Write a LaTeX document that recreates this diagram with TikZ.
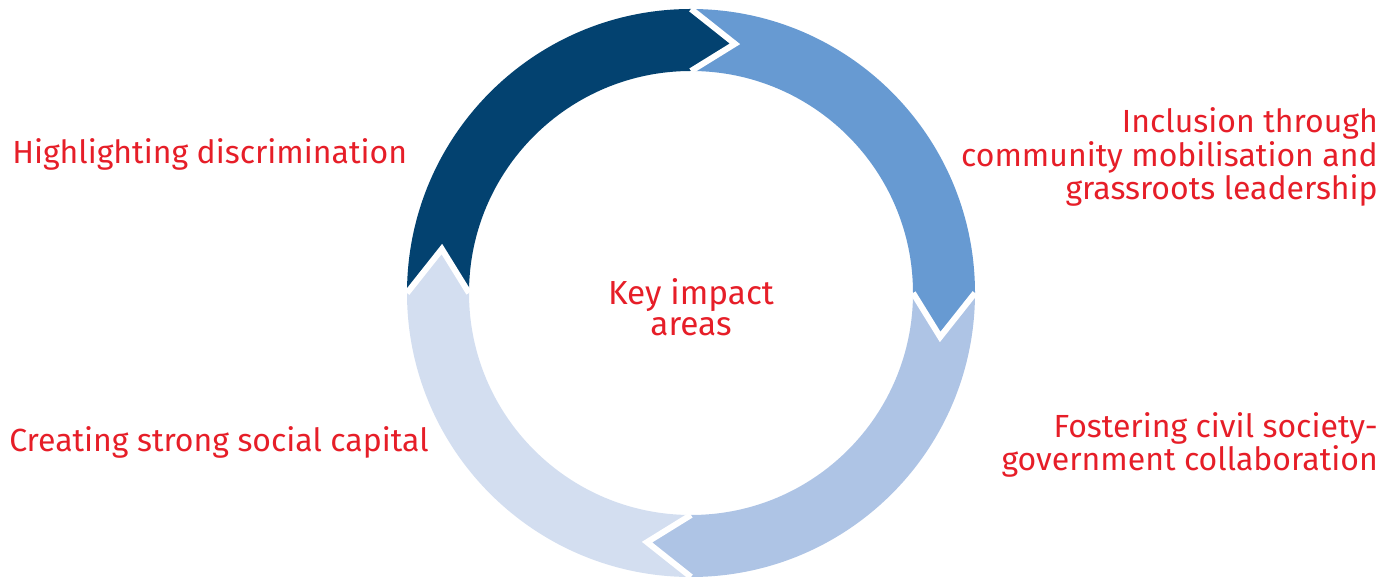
\documentclass[tikz,border=0pt]{standalone}
\usepackage{fontspec}
\setmainfont{Fira Sans}
\usepackage{tikz}
\usetikzlibrary{calc}
\definecolor{impactred}{RGB}{230,30,40}
\definecolor{darkseg}{RGB}{3,66,112}
\definecolor{midseg}{RGB}{103,154,210}
\definecolor{paleseg}{RGB}{174,196,229}
\definecolor{lightseg}{RGB}{211,222,240}
\tikzstyle{every node}=[font=\fontsize{24}{23.5}\selectfont, text=impactred, inner sep=0pt]
\tikzstyle{seam}=[draw=white, line width=4.5pt, line cap=square]

\begin{document}
\begin{tikzpicture}[x=0.75pt, y=0.75pt]
            \useasboundingbox (0, 0) rectangle (1399, 577);
            \coordinate (c) at (691, 284);

            \fill [darkseg] ($(c)+(180:284)$) arc [start angle=180, end angle=90, radius=284] -- ($(c)+(80:253)$) -- ($(c)+(90:222)$) arc [start angle=90, end angle=180, radius=222] -- ($(c)+(170:253)$) -- cycle;
            \fill [midseg] ($(c)+(90:284)$) arc [start angle=90, end angle=0, radius=284] -- ($(c)+(-10:253)$) -- ($(c)+(0:222)$) arc [start angle=0, end angle=90, radius=222] -- ($(c)+(80:253)$) -- cycle;
            \fill [paleseg] ($(c)+(0:284)$) arc [start angle=0, end angle=-90, radius=284] -- ($(c)+(-100:253)$) -- ($(c)+(-90:222)$) arc [start angle=-90, end angle=0, radius=222] -- ($(c)+(-10:253)$) -- cycle;
            \fill [lightseg] ($(c)+(-90:284)$) arc [start angle=-90, end angle=-180, radius=284] -- ($(c)+(-190:253)$) -- ($(c)+(-180:222)$) arc [start angle=-180, end angle=-90, radius=222] -- ($(c)+(-100:253)$) -- cycle;

            \draw [seam] ($(c)+(90:284)$) -- ($(c)+(80:253)$) -- ($(c)+(90:222)$);
            \draw [seam] ($(c)+(0:284)$) -- ($(c)+(-10:253)$) -- ($(c)+(0:222)$);
            \draw [seam] ($(c)+(-90:284)$) -- ($(c)+(-100:253)$) -- ($(c)+(-90:222)$);
            \draw [seam] ($(c)+(180:284)$) -- ($(c)+(170:253)$) -- ($(c)+(180:222)$);

            \node (key) [align=center, font=\fontsize{25}{23.5}\selectfont] at (691, 270) {Key impact\\areas};
            \node (hl) [anchor=base west] at (12, 413) {Highlighting discrimination};
            \node (incl) [anchor=east, align=right] at (1378, 420) {Inclusion through\\community mobilisation and\\grassroots leadership};
            \node (fost) [anchor=east, align=right] at (1378, 132) {Fostering civil society-\\government collaboration};
            \node (creat) [anchor=base west] at (9, 125) {Creating strong social capital};
        \end{tikzpicture}
\end{document}
